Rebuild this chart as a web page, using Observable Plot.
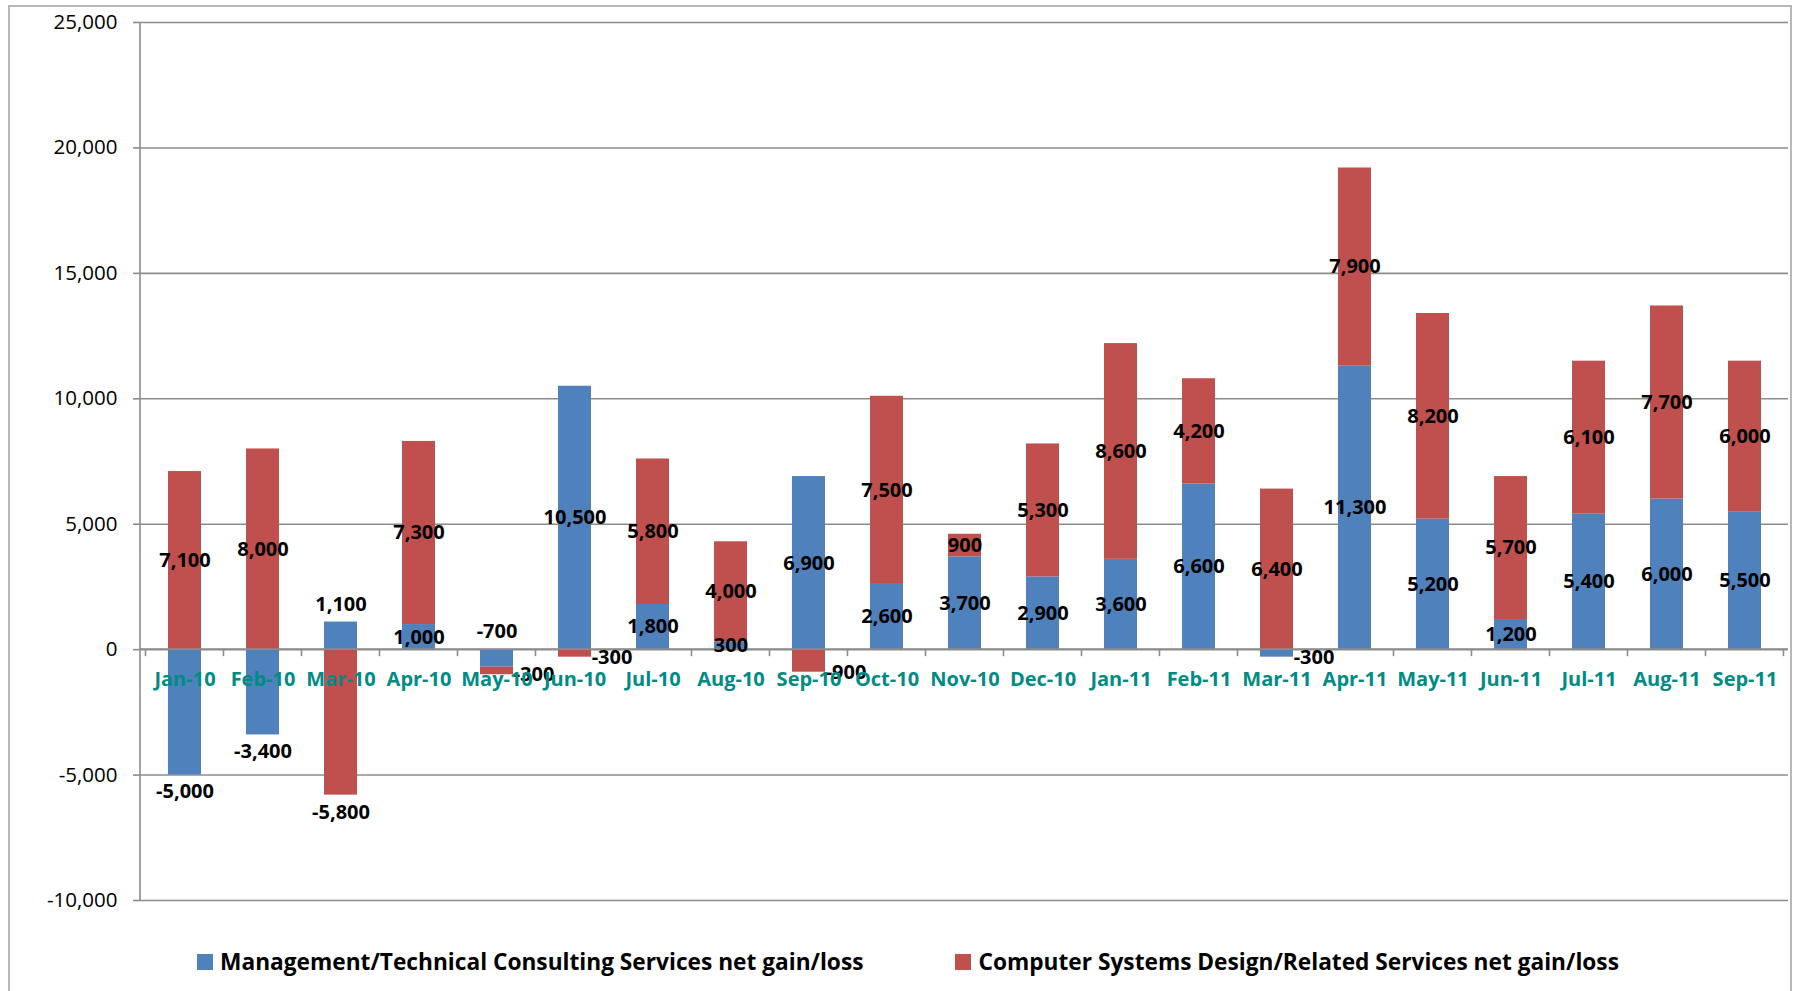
<!DOCTYPE html>
<html>
<head>
<meta charset="utf-8">
<script src="https://cdn.jsdelivr.net/npm/d3@7"></script>
<script src="https://cdn.jsdelivr.net/npm/@observablehq/plot@0.6"></script>
<style>
  html, body { margin: 0; padding: 0; background: #fff; }
  #wrap { position: relative; width: 1798px; height: 991px; overflow: hidden; font-family: "Open Sans", sans-serif; }
  #frame { position: absolute; left: 8px; top: 5px; width: 1784px; height: 1000px; border: 2px solid #b8b8b8; box-sizing: border-box; }
  #chart { position: absolute; left: 0; top: 0; }
  #legend { position: absolute; left: 0; top: 946px; width: 1798px; padding-left: 18px; box-sizing: border-box;
            display: flex; justify-content: center; gap: 92px; font-weight: bold; font-size: 22.7px; color: #000; }
  .item { display: flex; align-items: center; gap: 7px; white-space: nowrap; }
  .sw { width: 16px; height: 16px; display: inline-block; }
</style>
</head>
<body>
<div id="wrap">
  <div id="frame"></div>
  <div id="chart"></div>
  <div id="legend"></div>
</div>
<script>
// ---- data ----
const months = ["Jan-10","Feb-10","Mar-10","Apr-10","May-10","Jun-10","Jul-10","Aug-10","Sep-10","Oct-10","Nov-10","Dec-10",
                "Jan-11","Feb-11","Mar-11","Apr-11","May-11","Jun-11","Jul-11","Aug-11","Sep-11"];
const mgmt = [-5000,-3400,1100,1000,-700,10500,1800,300,6900,2600,3700,2900,3600,6600,-300,11300,5200,1200,5400,6000,5500];
const comp = [7100,8000,-5800,7300,-300,-300,5800,4000,-900,7500,900,5300,8600,4200,6400,7900,8200,5700,6100,7700,6000];
const seriesNames = ["Management/Technical Consulting Services net gain/loss",
                     "Computer Systems Design/Related Services net gain/loss"];
const yTicks = [-10000,-5000,0,5000,10000,15000,20000,25000];

// ---- styles ----
const colors = ["#4F81BD", "#C0504D"];
const gridColor = "#8c8c8c";
const teal = "#008B84";
const fmt = d => d.toLocaleString("en-US");

// ---- stacking (positives and negatives stacked separately, as in the source) ----
const rows = [];
months.forEach((m, i) => {
  let pos = 0, neg = 0;
  [mgmt[i], comp[i]].forEach((v, s) => {
    const base = v >= 0 ? pos : neg;
    const end = base + v;
    if (v >= 0) pos = end; else neg = end;
    rows.push({month: m, series: seriesNames[s], value: v, y1: base, y2: end});
  });
});
// label placement rules
rows.forEach(r => {
  const same = rows.filter(o => o.month === r.month && Math.sign(o.value) === Math.sign(r.value));
  const outer = same[same.length - 1] === r;
  if (r.value < 0 && -r.value >= 2000) { r.cls = "below"; r.ly = r.y2; }
  else if (r.value < 0 && !outer) { r.cls = "aboveBase"; r.ly = r.y1; }
  else if (r.value < 0) { r.cls = "right"; r.ly = r.y2; }
  else if (r.value <= 1500 && same.length === 1) { r.cls = "above"; r.ly = r.y2; }
  else { r.cls = "center"; r.ly = (r.y1 + r.y2) / 2; }
});
const labelOpts = {x: "month", y: "ly", text: d => fmt(d.value), fontWeight: "bold", fontSize: 20, fill: "#000"};
const lab = (cls, extra) => Plot.text(rows.filter(r => r.cls === cls), {...labelOpts, ...extra});

function decor(index, scales, values, dimensions) {
  const x = scales.x, y = scales.y;
  const {width, marginLeft, marginRight} = dimensions;
  const g = d3.create("svg:g").attr("stroke", gridColor).attr("stroke-width", 1.6).attr("fill", "none");
  const left = marginLeft, right = width - marginRight;
  g.append("line").attr("x1", left).attr("x2", left).attr("y1", y(yTicks[yTicks.length - 1])).attr("y2", y(yTicks[0]));
  const y0 = y(0);
  g.append("line").attr("x1", left).attr("x2", right).attr("y1", y0).attr("y2", y0);
  const step = x.step ? x.step() : (right - left) / months.length;
  const bw = x.bandwidth ? x.bandwidth() : 0;
  const b0 = x(months[0]) - (step - bw) / 2;
  for (let i = 0; i <= months.length; i++) {
    const px = b0 + i * step;
    g.append("line").attr("x1", px).attr("x2", px).attr("y1", y0).attr("y2", y0 + 7);
  }
  return g.node();
}

const chart = Plot.plot({
  width: 1798, height: 940,
  marginLeft: 140, marginRight: 10, marginTop: 22, marginBottom: 40,
  style: {fontFamily: "'Open Sans', sans-serif", background: "transparent", color: "#000", overflow: "visible"},
  x: {domain: months, paddingInner: 0.58, paddingOuter: 0.29, axis: null},
  y: {domain: [yTicks[0], yTicks[yTicks.length - 1]], axis: null},
  color: {domain: seriesNames, range: colors},
  marks: [
    Plot.ruleY(yTicks, {stroke: gridColor, strokeWidth: 1.6}),
    Plot.axisY({ticks: yTicks, tickSize: 7, tickPadding: 16, tickFormat: fmt, fontSize: 20.5, stroke: gridColor, strokeWidth: 1.6, label: null, fill: "#000"}),
    Plot.barY(rows, {x: "month", y1: "y1", y2: "y2", fill: "series"}),
    decor,
    lab("center", {}),
    lab("below", {dy: 17}),
    lab("aboveBase", {dy: -18}),
    lab("right", {dx: 37}),
    lab("above", {dy: -17}),
    Plot.text(months, {x: d => d, y: d => 0, dy: 30, text: d => d, fill: teal, fontWeight: "bold", fontSize: 20})
  ]
});
document.getElementById("chart").appendChild(chart);

const legend = document.getElementById("legend");
seriesNames.forEach((name, i) => {
  const item = document.createElement("div");
  item.className = "item";
  item.innerHTML = `<span class="sw" style="background:${colors[i]}"></span><span>${name}</span>`;
  legend.appendChild(item);
});
</script>
</body>
</html>
